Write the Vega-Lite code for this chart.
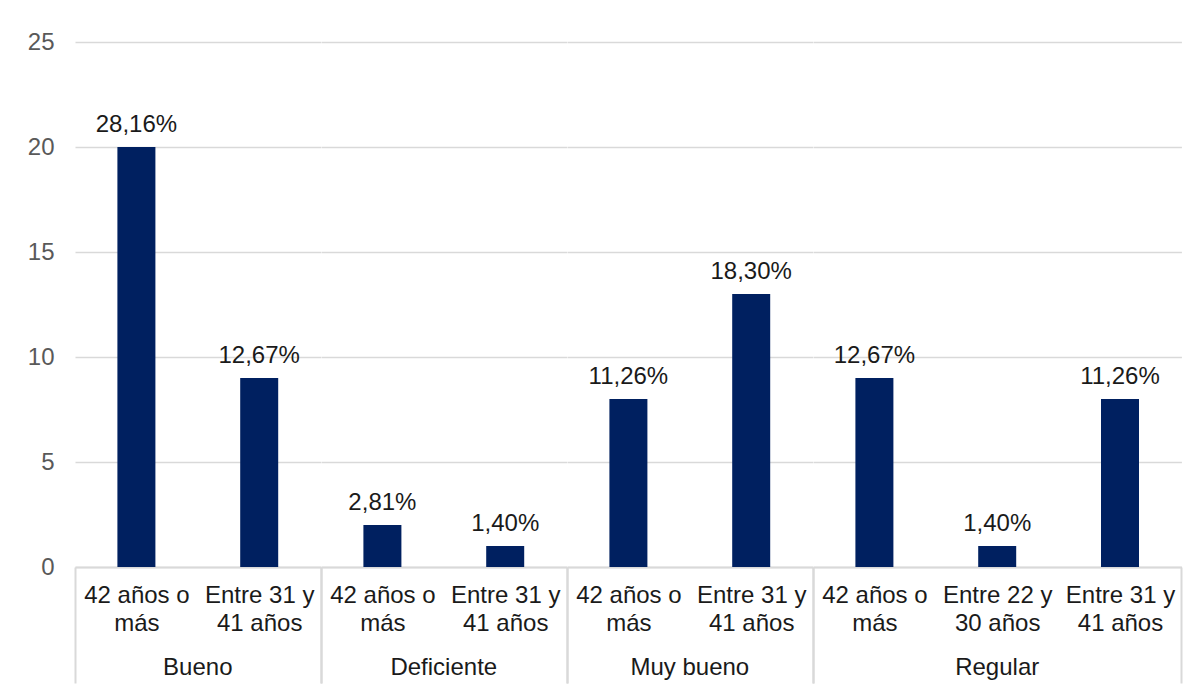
{
  "$schema": "https://vega.github.io/schema/vega-lite/v6.json",
  "padding": {"left": 27, "top": 30, "right": 10, "bottom": 5},
  "bounds": "flush",
  "background": "white",
  "config": {
    "view": {"stroke": null},
    "font": "Liberation Sans",
    "text": {"font": "Liberation Sans"}
  },
  "data": {
    "values": [
      {"grupo": "Bueno", "edad": "42 años o más", "valor": 20, "etiqueta": "28,16%"},
      {"grupo": "Bueno", "edad": "Entre 31 y 41 años", "valor": 9, "etiqueta": "12,67%"},
      {"grupo": "Deficiente", "edad": "42 años o más", "valor": 2, "etiqueta": "2,81%"},
      {"grupo": "Deficiente", "edad": "Entre 31 y 41 años", "valor": 1, "etiqueta": "1,40%"},
      {"grupo": "Muy bueno", "edad": "42 años o más", "valor": 8, "etiqueta": "11,26%"},
      {"grupo": "Muy bueno", "edad": "Entre 31 y 41 años", "valor": 13, "etiqueta": "18,30%"},
      {"grupo": "Regular", "edad": "42 años o más", "valor": 9, "etiqueta": "12,67%"},
      {"grupo": "Regular", "edad": "Entre 22 y 30 años", "valor": 1, "etiqueta": "1,40%"},
      {"grupo": "Regular", "edad": "Entre 31 y 41 años", "valor": 8, "etiqueta": "11,26%"}
    ]
  },
  "facet": {
    "column": {
      "field": "grupo",
      "type": "nominal",
      "sort": ["Bueno", "Deficiente", "Muy bueno", "Regular"],
      "title": null,
      "header": {
        "labelOrient": "bottom",
        "labelFont": "Liberation Sans",
        "labelFontSize": 24,
        "labelColor": "#1a1a1a",
        "labelPadding": 89
      }
    }
  },
  "spacing": 0,
  "resolve": {"scale": {"x": "independent"}},
  "spec": {
    "width": {"step": 122.8},
    "height": 525,
    "layer": [
      {
        "mark": {"type": "bar", "size": 38, "color": "#002060"},
        "encoding": {
          "x": {
            "field": "edad",
            "type": "nominal",
            "sort": "ascending",
            "scale": {"paddingInner": 0, "paddingOuter": 0},
            "axis": {
              "title": null,
              "labelAngle": 0,
              "labelFont": "Liberation Sans",
              "labelFontSize": 24,
              "labelColor": "#1a1a1a",
              "labelLineHeight": 28,
              "labelLimit": 0,
              "labelPadding": -100,
              "labelExpr": "datum.label == '42 años o más' ? ['42 años o', 'más'] : [slice(datum.label + '', 0, 10), slice(datum.label + '', 11)]",
              "domainColor": "#d9d9d9",
              "domainWidth": 2,
              "tickBand": "extent",
              "tickSize": 116,
              "tickColor": "#d9d9d9",
              "tickWidth": 2,
              "tickOpacity": {
                "condition": {"test": "datum.extra || indexof(datum.label + '', 'Entre 31') == 0", "value": 1},
                "value": 0
              }
            }
          },
          "y": {
            "field": "valor",
            "type": "quantitative",
            "scale": {"domain": [0, 25], "nice": false},
            "axis": {
              "title": null,
              "values": [0, 5, 10, 15, 20, 25],
              "domain": false,
              "ticks": false,
              "labelPadding": 21,
              "labelFont": "Liberation Sans",
              "labelFontSize": 24,
              "labelColor": "#595959",
              "gridColor": "#d9d9d9",
              "gridWidth": 1.5
            }
          }
        }
      },
      {
        "mark": {"type": "text", "font": "Liberation Sans", "fontSize": 24, "color": "#1a1a1a", "baseline": "alphabetic", "align": "center", "dy": -15},
        "encoding": {
          "x": {"field": "edad", "type": "nominal", "sort": "ascending"},
          "y": {"field": "valor", "type": "quantitative"},
          "text": {"field": "etiqueta"}
        }
      }
    ]
  }
}
